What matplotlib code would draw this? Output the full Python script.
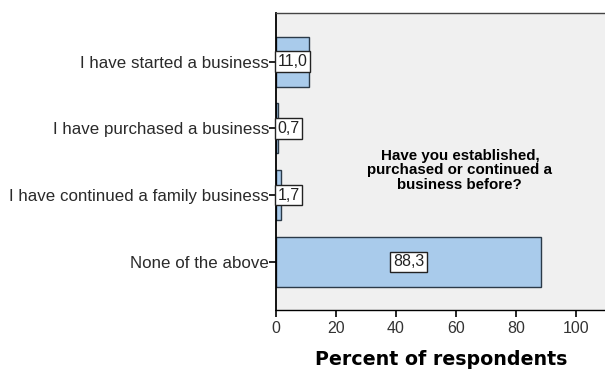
import numpy as np
import matplotlib.pyplot as plt

plt.rcParams['font.family'] = ['Liberation Sans', 'DejaVu Sans']

categories = ["I have started a business", "I have purchased a business",
              "I have continued a family business", "None of the above"]
percents = [11.0, 0.7, 1.7, 88.3]
xticks = [0, 20, 40, 60, 80, 100]

fig = plt.figure(figsize=(6.05, 3.78), dpi=100)
ax = fig.add_axes([0.456, 0.180, 0.546, 0.786])
ax.set_facecolor("#F0F0F0")

y = np.arange(len(categories))
ax.barh(y, percents, height=0.75, color="#A9CBEB", edgecolor="#2B3A48", linewidth=1.0, zorder=2)

for yi, v in zip(y, percents):
    lbl = f"{v:.1f}".replace(".", ",")
    xpos = v / 2 if v > 20 else 0.5
    ha = "center" if v > 20 else "left"
    ax.text(xpos, yi, lbl, ha=ha, va="center", fontsize=11.5, color="#222222", zorder=3,
            bbox=dict(boxstyle="square,pad=0.18", facecolor="white", edgecolor="#222222", linewidth=1.0))

ax.set_yticks(y)
ax.set_yticklabels(categories, fontsize=12.2, color="#2a2a2a")
ax.set_ylim(3.72, -0.73)
ax.set_xlim(0, 110)
ax.set_xticks(xticks)
ax.set_xticklabels([str(t) for t in xticks], fontsize=11.5, color="#333333")
ax.tick_params(axis="y", length=5, width=1.2, pad=0)
ax.tick_params(axis="x", length=5, width=1.2, pad=3)

ax.spines["right"].set_visible(False)
ax.spines["left"].set_linewidth(1.3)
ax.spines["bottom"].set_linewidth(1.0)
ax.spines["top"].set_linewidth(1.0)
ax.spines["top"].set_color("#444444")

ax.text(0.557, 0.47, "Have you established,\npurchased or continued a\nbusiness before?",
        transform=ax.transAxes, ha="center", va="center", fontsize=10.9, fontweight="bold",
        linespacing=1.05)

ax.set_xlabel("Percent of respondents", fontsize=13.7, fontweight="bold", labelpad=10,
              fontfamily=["DejaVu Sans"])

fig.savefig("out.png", dpi=100)
